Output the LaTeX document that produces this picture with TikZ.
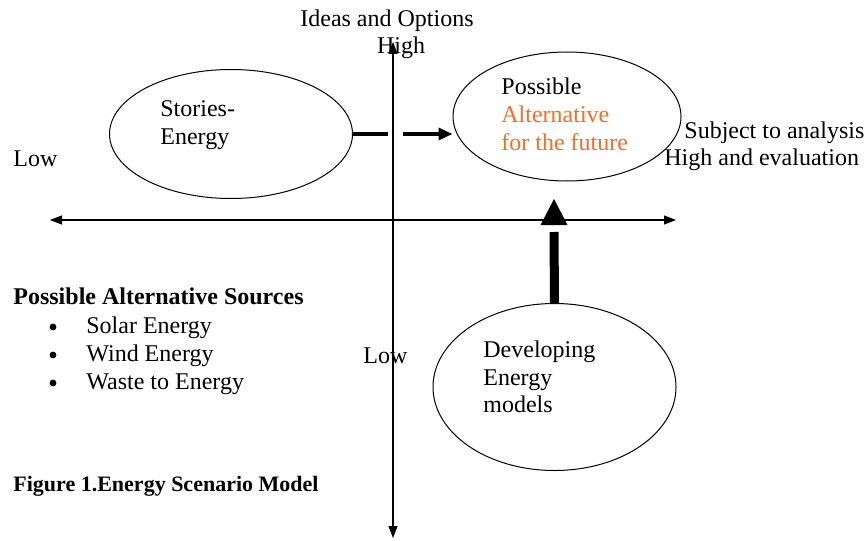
\documentclass[tikz,border=0pt]{standalone}
\usepackage{fontspec}
\setmainfont{Liberation Serif}
\usetikzlibrary{arrows.meta,shapes.geometric}
\definecolor{altorange}{RGB}{250,108,30}
\begin{document}
\begin{tikzpicture}[x=0.5pt,y=-0.5pt,
  txt/.style={inner sep=0pt,font=\fontsize{12}{13.8}\selectfont,anchor=base west},
  oval/.style={draw,ellipse,line width=0.5pt,inner sep=0pt},
  dot/.style={circle,fill,inner sep=0pt,minimum size=3.4pt},
  axis/.style={line width=0.6pt,{Triangle[length=6pt,width=4.5pt]}-{Triangle[length=6pt,width=4.5pt]}},
  thickflow/.style={line width=2pt,dash pattern=on 17.5pt off 7.5pt on 200pt,-{Triangle[length=7pt,width=6pt]}},
  bar/.style={line width=4.5pt}]
\useasboundingbox (0,0) rectangle (866,540);

% the four quadrants' axes
\coordinate (xl) at (50,220);
\coordinate (xr) at (676,220);
\coordinate (yt) at (393,42);
\coordinate (yb) at (393,538);

% axis labels
\node[txt,anchor=base] (ideas) at (387,27) {Ideas and Options};
\node[txt,anchor=base] (hightop) at (401,54) {High};
\node[txt] (lowleft) at (13,166) {Low};
\node[txt] (lowmid) at (363,363) {Low};
\node[txt] (subj1) at (684,138) {Subject to analysis};
\node[txt] (subj2) at (664,165) {High and evaluation};

\draw[axis] (xl) -- (xr);
\draw[axis] (yb) -- (yt);

% the three ovals
\node[oval,minimum width=121.5pt,minimum height=64.5pt] (stories) at (231,134) {};
\node[oval,minimum width=114pt,minimum height=64.5pt] (poss) at (567,116.5) {};
\node[oval,minimum width=121.5pt,minimum height=83.5pt] (dev) at (554.5,387) {};

\node[txt] (st1) at (160,117) {Stories-};
\node[txt] (st2) at (160,144) {Energy};

\node[txt] (po1) at (501,95) {Possible};
\node[txt,text=altorange] (po2) at (501,122) {Alternative};
\node[txt,text=altorange] (po3) at (501,150) {for the future};

\node[txt] (de1) at (483,357) {Developing};
\node[txt] (de2) at (483,385) {Energy};
\node[txt] (de3) at (483,412) {models};

% flows between the ovals
\draw[thickflow] (stories.east) -- (stories.east -| poss.west);

\coordinate (uptip) at (554,199);
\draw[bar] (dev.north) -- ([yshift=-16.5pt]uptip);
\fill (uptip) -- ++(-13.5,26) -- ++(27,0) -- cycle;

% list of sources
\node[txt,font=\fontsize{12}{13.8}\selectfont\bfseries] (srchead) at (13,304) {Possible Alternative Sources};
\node[dot] (b1) at (53,327) {};
\node[dot] (b2) at (53,355) {};
\node[dot] (b3) at (53,383) {};
\node[txt] (s1) at (86,333) {Solar Energy};
\node[txt] (s2) at (86,361) {Wind Energy};
\node[txt] (s3) at (86,389) {Waste to Energy};

% caption
\node[txt,font=\fontsize{11}{13}\selectfont\bfseries] (caption) at (13,491) {Figure 1.Energy Scenario Model};
\end{tikzpicture}
\end{document}
